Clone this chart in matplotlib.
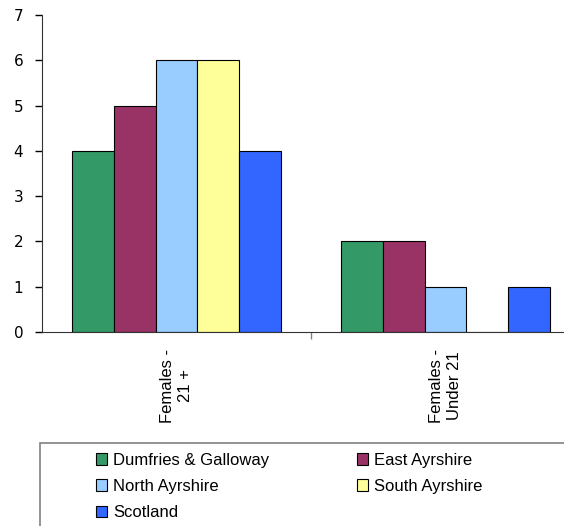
import matplotlib.pyplot as plt
import numpy as np
from matplotlib.patches import Rectangle, Patch

categories = ['Females -\n21 +', 'Females -\nUnder 21']
series_names = ['Dumfries & Galloway', 'East Ayrshire', 'North Ayrshire',
                'South Ayrshire', 'Scotland']
values = [
    [4, 2],   # Dumfries & Galloway
    [5, 2],   # East Ayrshire
    [6, 1],   # North Ayrshire
    [6, 0],   # South Ayrshire
    [4, 1],   # Scotland
]
colours = ['#339966', '#993366', '#99CCFF', '#FFFF99', '#3366FF']

W, H = 564, 526
fig = plt.figure(figsize=(W / 100, H / 100), dpi=100)
ax = fig.add_axes([42 / W, 1 - 332 / H, 538 / W, 317 / H])

x = np.arange(len(categories))
bw = 0.1547
for i, (name, vals, c) in enumerate(zip(series_names, values, colours)):
    ax.bar(x + (i - 2) * bw, vals, width=bw, color=c, edgecolor='black',
           linewidth=0.8, label=name)

ax.set_xlim(-0.5, 1.5)
ax.set_ylim(0, 7)
ax.set_yticks(range(8))
ax.set_yticklabels([str(v) for v in range(8)], family='DejaVu Sans', fontsize=11)
ax.tick_params(axis='y', length=5, width=1, pad=8.5)

ax.set_xticks(x)
ax.set_xticklabels(categories, rotation=90, family='Liberation Sans',
                   fontsize=12, linespacing=1.3, multialignment='center')
ax.tick_params(axis='x', which='major', length=0, pad=12)
ax.set_xticks([0.5], minor=True)
ax.tick_params(axis='x', which='minor', length=5, width=1, color='#808080')

ax.spines['top'].set_visible(False)
ax.spines['right'].set_visible(False)
ax.spines['left'].set_color('#333333')
ax.spines['bottom'].set_color('#333333')

# legend box extends off the figure, only top and left edges visible
fig.patches.append(Rectangle((40 / W, -0.1), 600 / W, 1.1 - 443 / H,
                             transform=fig.transFigure, fill=False,
                             edgecolor='#808080', linewidth=1.2))
handles = [Patch(facecolor=c, edgecolor='black', linewidth=0.8) for c in colours]
order = [0, 2, 4, 1, 3]
fig.legend([handles[i] for i in order], [series_names[i] for i in order],
           loc='upper left', bbox_to_anchor=(84 / W, 1 - 441 / H), ncol=2,
           frameon=False, prop={'family': 'Liberation Sans', 'size': 12},
           handlelength=0.7, handleheight=0.7, handletextpad=0.35,
           columnspacing=5.25, labelspacing=0.68, borderpad=0.2)

fig.savefig('out.png', dpi=100)
